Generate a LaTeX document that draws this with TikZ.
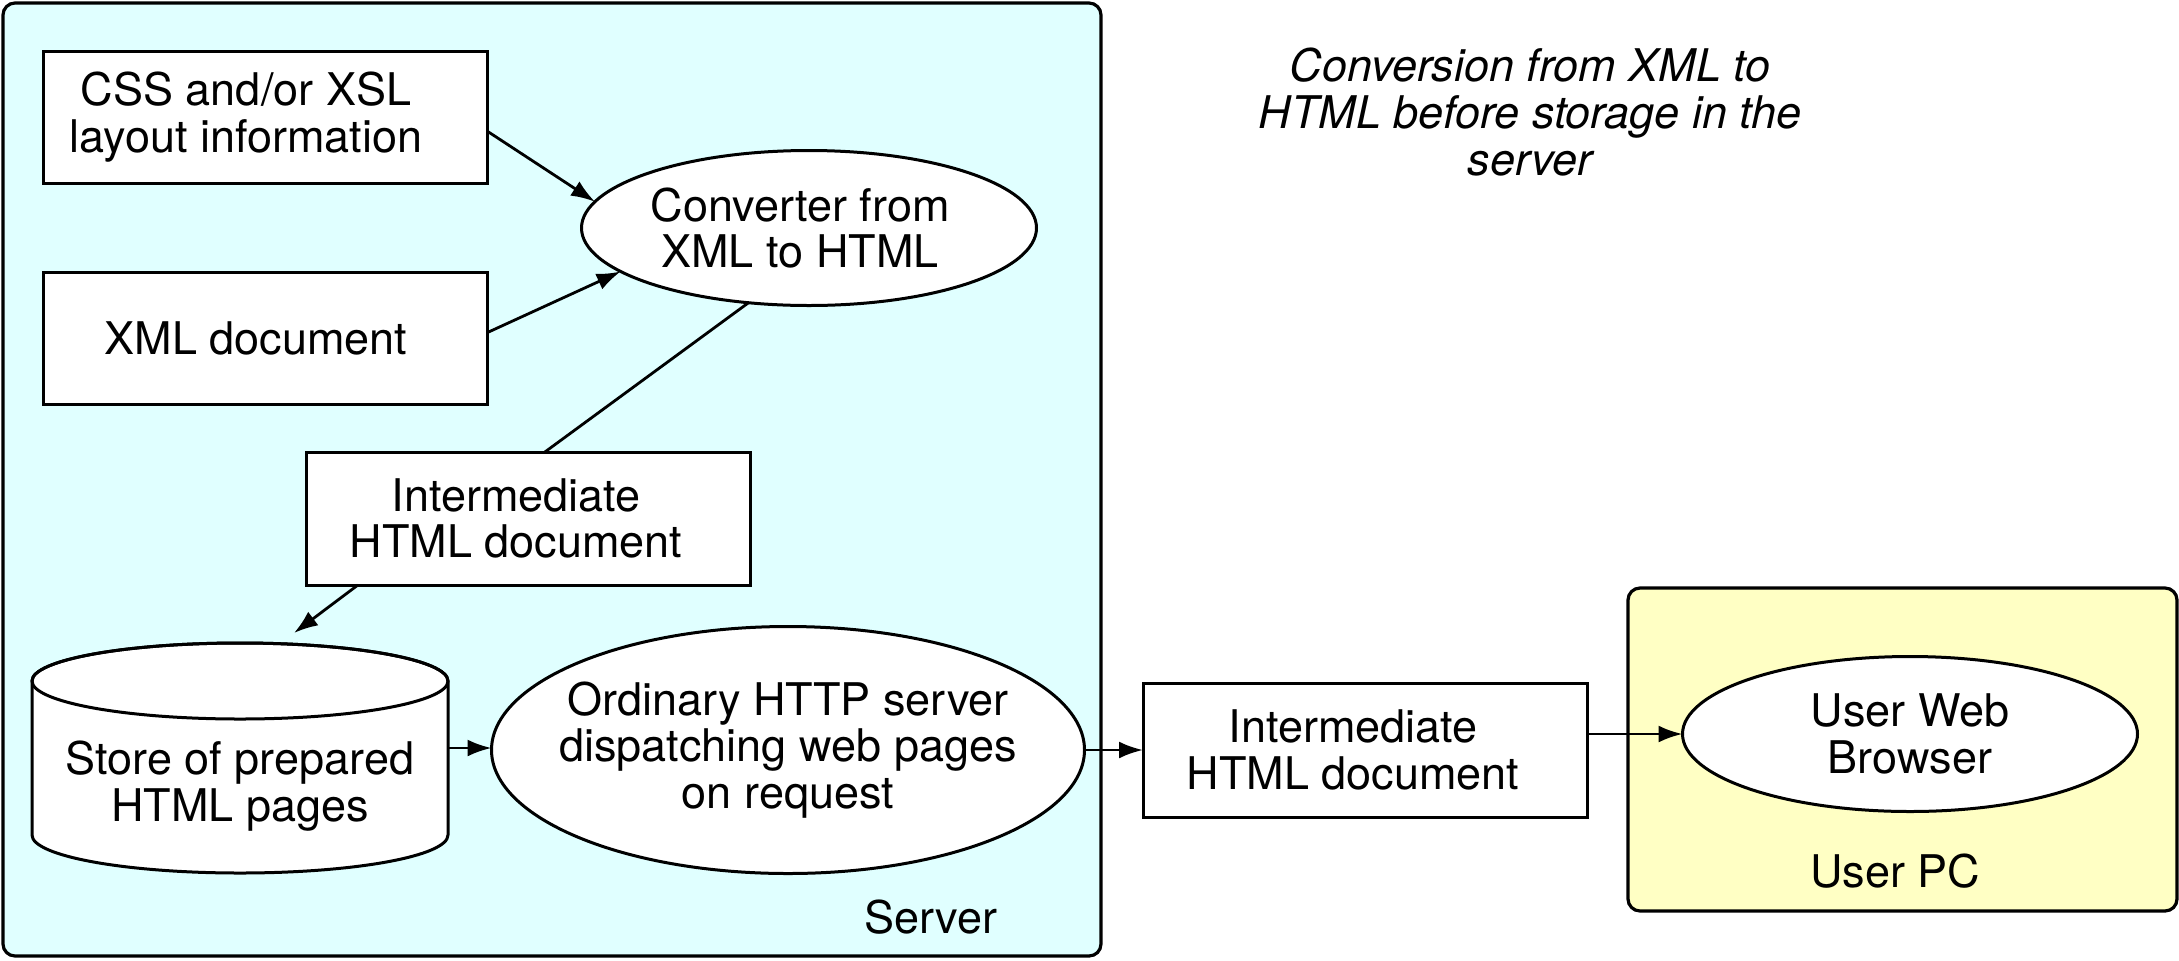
\documentclass[tikz,border=0pt]{standalone}
\usepackage{fontspec}
\setmainfont{TeX Gyre Heros}
\usetikzlibrary{arrows.meta,calc,shapes.geometric}
\definecolor{servercol}{HTML}{E0FFFF}
\definecolor{pccol}{HTML}{FFFFC4}
\newcommand\lsh[1]{\hspace*{#1}}
\begin{document}
\begin{tikzpicture}[x=0.5pt,y=-0.5pt,
  every node/.style={font=\fontsize{22.5}{23.3}\selectfont, align=center, inner sep=0pt, outer sep=0pt},
  box/.style={draw, line width=1.5pt, fill=white, rectangle},
  oval/.style={draw, line width=1.5pt, fill=white, ellipse},
  arr/.style={line width=1.4pt, -{Latex[length=12pt,width=8.5pt]}},
  ln/.style={line width=1.4pt},
  container/.style={draw, line width=1.6pt, rounded corners=6pt}]
\useasboundingbox (0,0) rectangle (2179,960);
% containers
\node[container, fill=servercol, minimum width=549pt, minimum height=476.5pt] (server) at (552,479.5) {};
\node[container, fill=pccol, minimum width=274.5pt, minimum height=161.5pt] (userpc) at (1902.5,749.5) {};
\node (serverlbl) at (931,917) {Server};
\node (pclbl) at (1895,871) {User PC};
% note
\node[font=\itshape\fontsize{22.5}{23.3}\selectfont] (note) at (1530,112) {Conversion from XML to\\HTML before storage in the\\server};
% boxes
\node[box, minimum width=222pt, minimum height=66pt] (css) at (265,117) {CSS and/or XSL\lsh{19pt}\\layout information\lsh{19pt}};
\node[box, minimum width=222pt, minimum height=66pt] (xml) at (265,338) {XML document\lsh{9pt}};
\node[oval, minimum width=227.5pt, minimum height=77.5pt] (conv) at (809,228) {Converter from\lsh{9pt}\\XML to HTML\lsh{9pt}};
\node[box, minimum width=222pt, minimum height=66.5pt] (im1) at (528,518.5) {Intermediate\lsh{12pt}\\HTML document\lsh{12pt}};
% cylinder store
\draw[line width=1.5pt, fill=white] (32,681) -- (32,835) arc[start angle=180, end angle=360, x radius=104pt, y radius=19pt] -- (448,681) arc[start angle=0, end angle=180, x radius=104pt, y radius=19pt] -- cycle;
\draw[line width=1.5pt] (240,681) ellipse [x radius=104pt, y radius=19pt];
\node (store) at (240,786) {Store of prepared\\HTML pages};
\node[oval, inner xsep=-40pt, minimum width=296.5pt, minimum height=123.5pt] (http) at (788,750) {Ordinary HTTP server\\dispatching web pages\\on request};
\node[box, minimum width=222pt, minimum height=67pt] (im2) at (1365,750) {Intermediate\lsh{12pt}\\HTML document\lsh{12pt}};
\node[oval, minimum width=227.5pt, minimum height=77.5pt] (browser) at (1910,734) {User Web\\Browser};
% connectors
\draw[arr] ($(css.north east)!0.606!(css.south east)$) -- (conv.173);
\draw[arr] ($(xml.north east)!0.46!(xml.south east)$) -- (conv.193);
\draw[ln] (conv.231) -- ($(im1.north west)!0.538!(im1.north east)$);
\coordinate (storetop) at (294,633);
\draw[arr] ($(im1.south west)!0.117!(im1.south east)$) -- (storetop);
\coordinate (storeE) at (448,748);
\draw[arr] (storeE) -- (storeE -| http.west);
\draw[arr] (http.east) -- (im2.west);
\draw[arr] (im2.east |- browser.west) -- (browser.west);
\end{tikzpicture}
\end{document}
